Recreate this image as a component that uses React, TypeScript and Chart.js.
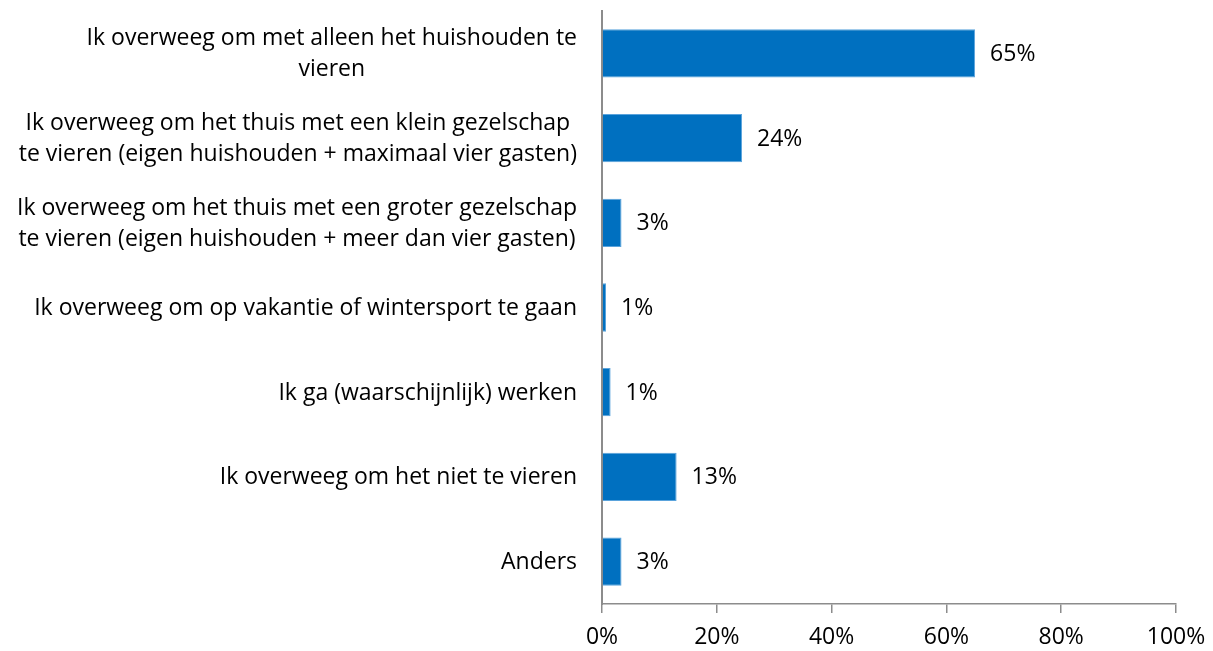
import React, { useEffect, useRef } from "react";
import { Chart, registerables } from "chart.js";

Chart.register(...registerables);

const categories: string[][] = [
  ["Ik overweeg om met alleen het huishouden te", "vieren"],
  ["Ik overweeg om het thuis met een klein gezelschap", "te vieren (eigen huishouden + maximaal vier gasten)"],
  ["Ik overweeg om het thuis met een groter gezelschap", "te vieren (eigen huishouden + meer dan vier gasten)"],
  ["Ik overweeg om op vakantie of wintersport te gaan"],
  ["Ik ga (waarschijnlijk) werken"],
  ["Ik overweeg om het niet te vieren"],
  ["Anders"],
];

const values: number[] = [65, 24.4, 3.4, 0.7, 1.5, 13.0, 3.4];
const valueLabels: string[] = ["65%", "24%", "3%", "1%", "1%", "13%", "3%"];
const xTicks: number[] = [0, 20, 40, 60, 80, 100];

const FONT = "'Open Sans', 'Noto Sans', sans-serif";
const FONT_SIZE = 23;

const yLabelsPlugin = {
  id: "yLabels",
  afterDraw(chart: any) {
    const ctx = chart.ctx;
    const yScale = chart.scales.y;
    const rightEdge = chart.chartArea.left - 25;
    const lineH = 31;
    ctx.save();
    ctx.font = `${FONT_SIZE}px ${FONT}`;
    ctx.fillStyle = "#000";
    ctx.textAlign = "center";
    ctx.textBaseline = "middle";
    categories.forEach((lines, i) => {
      const yc = yScale.getPixelForTick(i) + 1;
      const w = Math.max(...lines.map((l) => ctx.measureText(l).width));
      const cx = rightEdge - w / 2;
      const y0 = yc - ((lines.length - 1) * lineH) / 2;
      lines.forEach((l, j) => ctx.fillText(l, cx, y0 + j * lineH));
    });
    ctx.restore();
  },
};

const valueLabelsPlugin = {
  id: "valueLabels",
  afterDatasetsDraw(chart: any) {
    const ctx = chart.ctx;
    const meta = chart.getDatasetMeta(0);
    ctx.save();
    ctx.font = `${FONT_SIZE}px ${FONT}`;
    ctx.fillStyle = "#000";
    ctx.textAlign = "left";
    ctx.textBaseline = "middle";
    meta.data.forEach((el: any, i: number) => {
      ctx.fillText(valueLabels[i], el.x + 15, el.y + 1);
    });
    ctx.restore();
  },
};

export default function App() {
  const ref = useRef<HTMLCanvasElement>(null);
  useEffect(() => {
    if (!ref.current) return;
    const chart = new Chart(ref.current, {
      type: "bar",
      data: {
        labels: categories.map((c) => c.join(" ")),
        datasets: [
          {
            data: values,
            backgroundColor: "#0070C0",
            borderColor: "#5aa3dc",
            borderWidth: 1,
            barPercentage: 0.57,
            categoryPercentage: 1,
          },
        ],
      },
      options: {
        indexAxis: "y",
        animation: false,
        responsive: false,
        maintainAspectRatio: false,
        layout: { padding: { top: 11, right: 37, bottom: 0, left: 0 } },
        plugins: { legend: { display: false }, tooltip: { enabled: false } },
        scales: {
          y: {
            type: "category",
            grid: { display: false },
            border: { display: true, color: "#8c8c8c", width: 2 },
            ticks: { display: false },
            afterFit: (scale: any) => {
              scale.width = 602;
            },
          },
          x: {
            type: "linear",
            min: 0,
            max: 100,
            afterBuildTicks: (scale: any) => {
              scale.ticks = xTicks.map((v) => ({ value: v }));
            },
            afterFit: (scale: any) => {
              scale.height = 47;
              scale.paddingLeft = 0;
              scale.paddingRight = 0;
            },
            grid: {
              display: true,
              drawOnChartArea: false,
              drawTicks: true,
              tickLength: 9,
              color: "#8c8c8c",
              lineWidth: 1.5,
            },
            border: { display: true, color: "#8c8c8c", width: 1.5 },
            ticks: {
              padding: 11,
              color: "#000",
              font: { family: FONT, size: FONT_SIZE },
              maxRotation: 0,
              callback: (v: any) => `${v}%`,
            },
          },
        },
      },
      plugins: [yLabelsPlugin, valueLabelsPlugin],
    });
    return () => chart.destroy();
  }, []);
  return (
    <div style={{ position: "absolute", left: 0, top: 0, width: 1213, height: 651, background: "#fff" }}>
      <canvas ref={ref} width={1213} height={651} style={{ display: "block" }} />
    </div>
  );
}
